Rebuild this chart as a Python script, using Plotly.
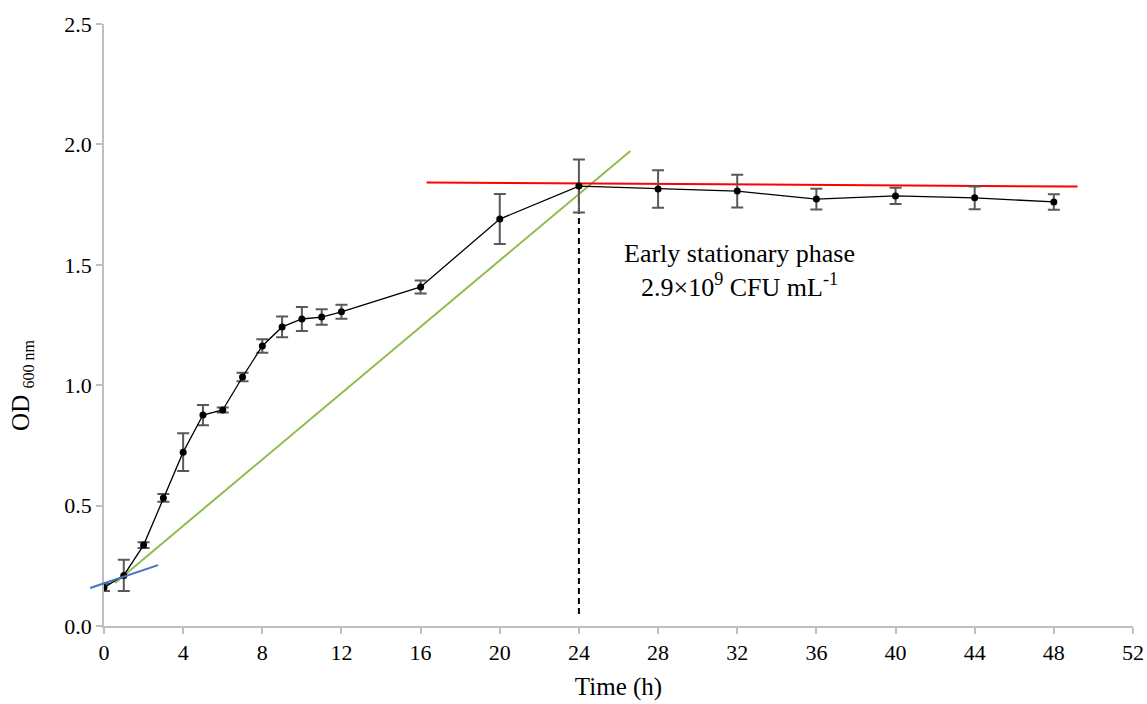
import plotly.graph_objects as go

# Data
time_h = [0, 1, 2, 3, 4, 5, 6, 7, 8, 9, 10, 11, 12, 16, 20, 24, 28, 32, 36, 40, 44, 48]
od600 = [0.16, 0.21, 0.336, 0.532, 0.722, 0.876, 0.897, 1.034, 1.163, 1.242, 1.275, 1.283,
         1.305, 1.408, 1.690, 1.827, 1.815, 1.806, 1.773, 1.786, 1.778, 1.761]
od_err = [0.015, 0.065, 0.012, 0.016, 0.078, 0.042, 0.01, 0.018, 0.028, 0.043, 0.05, 0.032,
          0.029, 0.027, 0.104, 0.11, 0.078, 0.068, 0.043, 0.034, 0.047, 0.032]

# Fitted tangent lines (endpoints)
lag_x = [-0.7, 2.73]
lag_y = [0.158, 0.253]
exp_x = [0.56, 26.6]
exp_y = [0.179, 1.973]
stat_x = [16.3, 49.2]
stat_y = [1.842, 1.825]
marker_x = [24, 24]
marker_y = [0.05, 1.827]

x_ticks = list(range(0, 53, 4))
y_ticks = [0.0, 0.5, 1.0, 1.5, 2.0, 2.5]

X_MIN, X_MAX = 0, 52
SERIF = "Liberation Serif"

fig = go.Figure()

# Blue lag-phase line (extends slightly left of the y axis, so drawn as paper shape)
fig.add_shape(type="line", xref="paper", yref="y",
              x0=(lag_x[0] - X_MIN) / (X_MAX - X_MIN), x1=(lag_x[1] - X_MIN) / (X_MAX - X_MIN),
              y0=lag_y[0], y1=lag_y[1],
              line=dict(color="#4472C4", width=2), layer="above")

fig.add_trace(go.Scatter(x=exp_x, y=exp_y, mode="lines",
                         line=dict(color="#8FBC4F", width=2), showlegend=False, hoverinfo="skip"))
fig.add_trace(go.Scatter(x=stat_x, y=stat_y, mode="lines",
                         line=dict(color="#FF0000", width=2), showlegend=False, hoverinfo="skip"))
fig.add_trace(go.Scatter(x=marker_x, y=marker_y, mode="lines",
                         line=dict(color="black", width=2, dash="6px,4px"), showlegend=False, hoverinfo="skip"))

fig.add_trace(go.Scatter(
    x=time_h, y=od600, mode="lines+markers",
    line=dict(color="black", width=1.3),
    marker=dict(color="black", size=7),
    error_y=dict(type="data", array=od_err, visible=True, color="#595959", thickness=2, width=6),
    showlegend=False,
))

fig.add_annotation(x=32.1, y=1.545, xref="x", yref="y", xanchor="center", yanchor="middle",
                   text="Early stationary phase", showarrow=False,
                   font=dict(family=SERIF, size=26, color="black"))
fig.add_annotation(x=32.1, y=1.416, xref="x", yref="y", xanchor="center", yanchor="middle",
                   text="2.9×10<sup>9</sup> CFU mL<sup>-1</sup>", showarrow=False,
                   font=dict(family=SERIF, size=26, color="black"))

# Y axis title
fig.add_annotation(x=0, y=0.997, xref="paper", yref="y", xanchor="center", yanchor="middle",
                   xshift=-82, textangle=-90, showarrow=False,
                   text="OD <sub><span style='font-size:16px'>600 nm</span></sub>",
                   font=dict(family=SERIF, size=25, color="black"))

axis_common = dict(showgrid=False, zeroline=False, showline=True, linecolor="#BFBFBF", linewidth=1.5,
                   ticks="outside", tickcolor="#BFBFBF", ticklen=6, tickwidth=1.5, automargin=False,
                   tickfont=dict(family=SERIF, size=22, color="black"))

fig.update_layout(
    width=1147, height=704,
    margin=dict(l=104, r=14, t=24, b=78),
    paper_bgcolor="white", plot_bgcolor="white",
    xaxis=dict(range=[X_MIN, X_MAX], tickmode="array", tickvals=x_ticks,
               ticktext=[str(v) for v in x_ticks],
               title=dict(text="Time (h)", font=dict(family=SERIF, size=25, color="black"), standoff=13),
               **axis_common),
    yaxis=dict(range=[0, 2.5], tickmode="array", tickvals=y_ticks,
               ticktext=[f"{v:.1f}" for v in y_ticks],
               **axis_common),
)

fig.write_html("out.html", config={"displayModeBar": False},
               post_script="document.body.style.margin='0';document.body.style.overflow='hidden';")
